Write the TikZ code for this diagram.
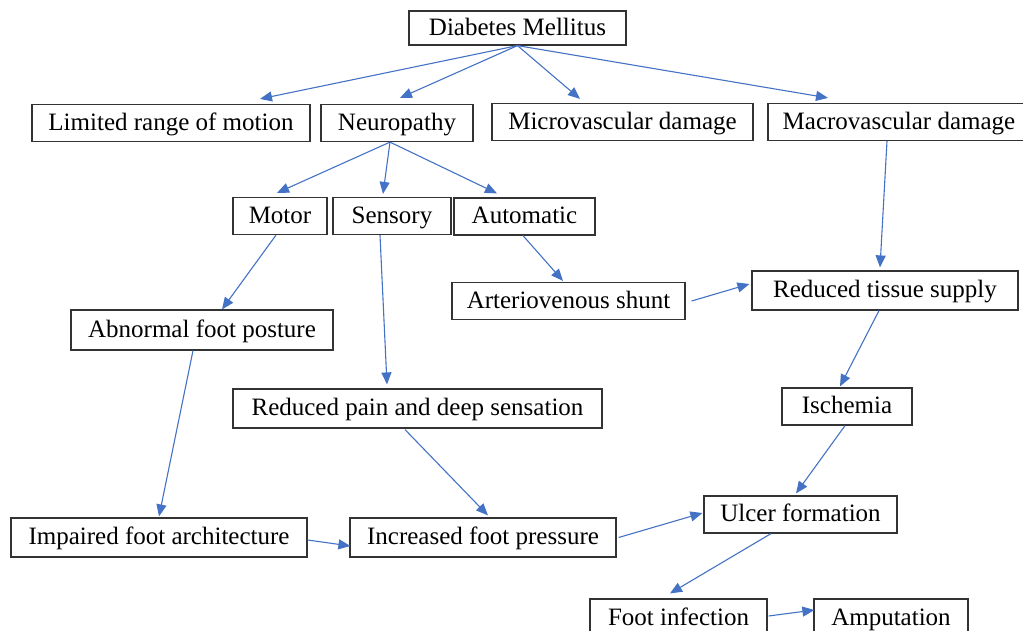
\documentclass[tikz,border=0pt]{standalone}
\usepackage{fontspec}
\setmainfont{Liberation Serif}
\usepackage{xcolor}
\usetikzlibrary{arrows.meta,positioning}
\definecolor{arrowblue}{HTML}{4472C4}

\begin{document}
\begin{tikzpicture}[
        x=1pt, y=-1pt,
        font=\fontsize{25}{29}\selectfont,
        box/.style={
            draw=black!80, line width=1.2pt,
            inner sep=0pt, minimum height=37pt,
            text height=18pt, text depth=4pt,
            align=center
        },
        arrow/.style={-{Triangle[length=12pt,width=10pt]}, arrowblue, line width=1.1pt}
    ]

    \useasboundingbox (0,0) rectangle (1023,630);
    \fill[white] (0,0) rectangle (1023,630);
    \clip (0,0) rectangle (1023,630);

    % Top level
    \node[box, minimum width=217pt, minimum height=34pt] (dm) at (517.5,28) {Diabetes Mellitus};

    \node[box, minimum width=278pt] (range) at (171,123) {Limited range of motion};
    \node[box, minimum width=152pt] (neuro) at (397,123) {Neuropathy};
    \node[box, minimum width=261pt] (micro) at (622.5,122) {Microvascular damage};
    \node[box, minimum width=262pt] (macro) at (899,122) {Macrovascular damage};

    % Neuropathy branches
    \node[box, minimum width=94pt] (motor) at (280,216) {Motor};
    \node[box, minimum width=118pt] (sensory) at (392,216) {Sensory};
    \node[box, minimum width=141pt] (auto) at (524.5,216.5) {Automatic};

    \node[box, minimum width=233pt] (shunt) at (568.5,301) {Arteriovenous shunt};
    \node[box, minimum width=266pt, minimum height=39pt] (tissue) at (885,290.5) {Reduced tissue supply};
    \node[box, minimum width=262pt, minimum height=40pt] (posture) at (202,330) {Abnormal foot posture};
    \node[box, minimum width=369pt, minimum height=39pt] (pain) at (417.5,408.5) {Reduced pain and deep sensation};
    \node[box, minimum width=130pt] (ischemia) at (847,406.5) {Ischemia};

    % Bottom
    \node[box, minimum width=296pt, minimum height=39pt] (archi) at (159,537.5) {Impaired foot architecture};
    \node[box, minimum width=266pt, minimum height=39pt] (pressure) at (483,537.5) {Increased foot pressure};
    \node[box, minimum width=193pt] (ulcer) at (800.5,514.5) {Ulcer formation};
    \node[box, minimum width=177pt, minimum height=38pt] (infection) at (678.5,618) {Foot infection};
    \node[box, minimum width=154pt, minimum height=38pt] (amput) at (891,618) {Amputation};

    % Arrows
    \draw[arrow] (dm.south) -- ([xshift=89pt,yshift=5pt]range.north);
    \draw[arrow] (dm.south) -- ([xshift=3pt,yshift=6pt]neuro.north);
    \draw[arrow] (dm.south) -- ([xshift=-42.5pt,yshift=4pt]micro.north);
    \draw[arrow] (dm.south) -- ([xshift=-71pt,yshift=5pt]macro.north);

    \draw[arrow] ([xshift=-7pt]neuro.south) -- ([xshift=-3pt,yshift=4pt]motor.north);
    \draw[arrow] ([xshift=-7pt]neuro.south) -- ([xshift=-9pt,yshift=3pt]sensory.north);
    \draw[arrow] ([xshift=-7pt]neuro.south) -- ([xshift=-27.5pt,yshift=4pt]auto.north);

    \draw[arrow] ([xshift=-4pt]motor.south) -- ([xshift=20pt]posture.north);
    \draw[arrow] ([xshift=-12pt]sensory.south) -- ([xshift=-30.5pt,yshift=4pt]pain.north);
    \draw[arrow] ([xshift=-1.5pt]auto.south) -- ([xshift=-5.5pt,yshift=1pt]shunt.north);
    \draw[arrow] ([xshift=-12pt]macro.south) -- ([xshift=-5pt,yshift=3pt]tissue.north);
    \draw[arrow] ([xshift=6pt]shunt.east) -- ([xshift=-2pt,yshift=6.5pt]tissue.west);
    \draw[arrow] ([xshift=-6pt]tissue.south) -- ([xshift=-7pt,yshift=1pt]ischemia.north);

    \draw[arrow] ([xshift=-9pt]posture.south) -- ([yshift=1pt]archi.north);
    \draw[arrow] ([xshift=-12.5pt,yshift=-1pt]pain.south) -- ([xshift=5pt,yshift=2pt]pressure.north);
    \draw[arrow] ([yshift=-2.5pt]archi.east) -- ([xshift=1pt,yshift=-8.5pt]pressure.west);
    \draw[arrow] ([xshift=-2pt]ischemia.south) -- ([xshift=-4.5pt,yshift=2pt]ulcer.north);
    \draw[arrow] ([xshift=2pt]pressure.east) -- ([xshift=-1pt,yshift=1.5pt]ulcer.west);
    \draw[arrow] ([xshift=-29.5pt]ulcer.south) -- ([xshift=-8.5pt,yshift=5pt]infection.north);
    \draw[arrow] ([xshift=1pt,yshift=2pt]infection.east) -- ([xshift=1pt,yshift=8pt]amput.west);

\end{tikzpicture}
\end{document}
